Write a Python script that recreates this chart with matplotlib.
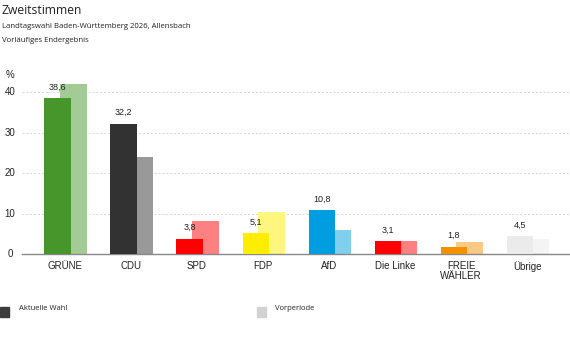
import matplotlib.pyplot as plt
import numpy as np

# Daten
parteien = ['GRÜNE', 'CDU', 'SPD', 'FDP', 'AfD', 'Die Linke', 'FREIE\nWÄHLER', 'Übrige']
aktuell = [38.6, 32.2, 3.8, 5.1, 10.8, 3.1, 1.8, 4.5]
vorperiode = [42.0, 24.0, 8.2, 10.4, 5.9, 3.2, 3.0, 3.7]
y_ticks = [0, 10, 20, 30, 40]
farben_aktuell = ['#46962b', '#323232', '#ff0000', '#ffed00', '#009ee0', '#ff0000', '#f39200', '#ebebeb']
farben_vor = ['#a3cb95', '#999999', '#ff8080', '#fff680', '#80cfef', '#ff8080', '#f9c985', '#f4f4f4']

W, H = 570, 352
fig = plt.figure(figsize=(W / 100, H / 100), dpi=100)
plt.rcParams['font.family'] = ['Liberation Sans', 'DejaVu Sans']

# Achse in Pixelkoordinaten
ax_l, ax_r, ax_b, ax_t = 22, 570, 254, 72
ax = fig.add_axes([ax_l / W, 1 - ax_b / H, (ax_r - ax_l) / W, (ax_b - ax_t) / H])

x = np.arange(len(parteien))
bw = 0.40
ax.bar(x + 0.13, vorperiode, width=bw, color=farben_vor, zorder=2)
ax.bar(x - 0.11, aktuell, width=bw, color=farben_aktuell, zorder=3)

for xi, v in zip(x, aktuell):
    ax.text(xi - 0.11, v + 1.6, f'{v:.1f}'.replace('.', ','), ha='center', va='bottom',
            fontsize=6.5, color='#222222', zorder=4)

ax.set_xlim(-0.65, 7.65)
ax.set_ylim(0, 45)
ax.set_yticks([])
ax.set_xticks(x)
ax.set_xticklabels(parteien, fontsize=7, color='#222222', linespacing=0.95)
ax.tick_params(axis='x', length=0, pad=5)

# y-Beschriftung links
trans = ax.get_yaxis_transform()
for y in y_ticks:
    ax.text(-12 / (ax_r - ax_l), y, str(y), transform=trans, ha='center', va='center',
            fontsize=7, color='#222222', clip_on=False)

for y in y_ticks[1:]:
    ax.axhline(y, color='#d5d5d5', lw=0.7, ls=(0, (2, 2)), zorder=1)
for s in ['top', 'right', 'left']:
    ax.spines[s].set_visible(False)
ax.spines['bottom'].set_color('#888888')
ax.spines['bottom'].set_linewidth(1)
ax.patch.set_alpha(0)

# Titel
fig.text(2 / W, 1 - 10 / H, 'Zweitstimmen', fontsize=8.7, color='#222222', va='center',
         family=['Open Sans', 'DejaVu Sans'])
fig.text(2 / W, 1 - 26 / H, 'Landtagswahl Baden-Württemberg 2026, Allensbach', fontsize=5.6,
         color='#222222', va='center', family=['Open Sans', 'DejaVu Sans'])
fig.text(2 / W, 1 - 41 / H, 'Vorläufiges Endergebnis', fontsize=5.6, color='#222222',
         va='center', family=['Open Sans', 'DejaVu Sans'])
fig.text(6 / W, 1 - 75 / H, '%', fontsize=7, color='#222222', va='center')

# Legende
fig.patches.append(plt.Rectangle((0, 1 - 317 / H), 9 / W, 10 / H, color='#3c3c3c',
                                 transform=fig.transFigure, figure=fig))
fig.text(19 / W, 1 - 309 / H, 'Aktuelle Wahl', fontsize=5.5, color='#222222', va='center',
         family=['Open Sans', 'DejaVu Sans'])
fig.patches.append(plt.Rectangle((257 / W, 1 - 317 / H), 9 / W, 10 / H, color='#d2d2d2',
                                 transform=fig.transFigure, figure=fig))
fig.text(275 / W, 1 - 309 / H, 'Vorperiode', fontsize=5.5, color='#222222', va='center',
         family=['Open Sans', 'DejaVu Sans'])

fig.savefig('out.png', dpi=100)
